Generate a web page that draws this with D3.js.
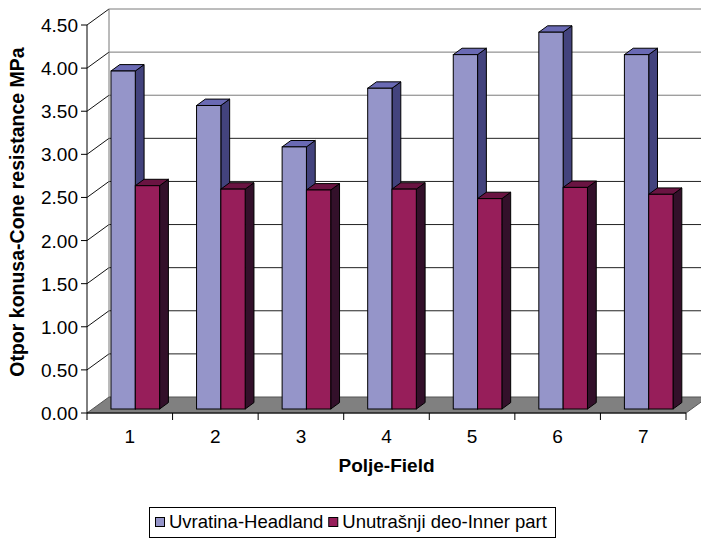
<!DOCTYPE html>
<html>
<head>
<meta charset="utf-8">
<script src="https://cdn.jsdelivr.net/npm/d3@7"></script>
<style>
  body { margin: 0; background: #fff; }
  text { font-family: Arial, "Liberation Sans", sans-serif; fill: #000; }
</style>
</head>
<body>
<svg id="chart" width="701" height="538"></svg>
<script>
// data
var categories = ['1', '2', '3', '4', '5', '6', '7'];
var headland = [3.92, 3.52, 3.04, 3.72, 4.11, 4.37, 4.11];
var innerPart = [2.59, 2.55, 2.54, 2.55, 2.44, 2.57, 2.49];
var yTicks = [0, 0.5, 1, 1.5, 2, 2.5, 3, 3.5, 4, 4.5];
var seriesNames = ['Uvratina-Headland', 'Unutrašnji deo-Inner part'];

var svg = d3.select('#chart');
var DX = 22, DY = -16;          // depth of the 3d box
var fFront = 0.25, fBack = 0.65; // where the columns sit in depth

var x = d3.scaleBand().domain(categories).range([87, 686]);
var xs = d3.scaleBand().domain([0, 1]).range([0, x.bandwidth()]).paddingOuter(0.76);
var y = d3.scaleLinear().domain([0, 4.5]).range([413, 25]);

var colors = [
  {front: '#9595c9', side: '#43437d', top: '#6a6ab4'},
  {front: '#971e5a', side: '#33102a', top: '#6a1442'}
];

var xMin = 87, xMax = 686;

// back wall + left wall gridlines
var walls = svg.append('g');
yTicks.forEach(function (v) {
  if (v === 0) return;
  walls.append('line')
    .attr('x1', xMin + DX).attr('x2', xMax + DX)
    .attr('y1', y(v) + DY).attr('y2', y(v) + DY)
    .attr('stroke', v >= 3.5 ? '#7a7a7a' : '#222').attr('stroke-width', 1);
  walls.append('line')
    .attr('x1', xMin).attr('x2', xMin + DX)
    .attr('y1', y(v)).attr('y2', y(v) + DY)
    .attr('stroke', '#111').attr('stroke-width', 1);
});
walls.append('line')
  .attr('x1', xMin + DX).attr('x2', xMin + DX)
  .attr('y1', y(4.5) + DY).attr('y2', y(0) + DY)
  .attr('stroke', '#777');

// floor
svg.append('polygon')
  .attr('points', [[xMin, y(0)], [xMax, y(0)], [xMax + DX, y(0) + DY], [xMin + DX, y(0) + DY]].join(' '))
  .attr('fill', '#808080').attr('stroke', '#555');

// columns
var bars = svg.append('g');
categories.forEach(function (c, i) {
  [headland[i], innerPart[i]].forEach(function (v, s) {
    var x0 = x(c) + xs(s) + DX * fFront;
    var x1 = x0 + xs.bandwidth();
    var yt = y(v) + DY * fFront;
    var yb = y(0) + DY * fFront;
    var dx = DX * (fBack - fFront), dy = DY * (fBack - fFront);
    var col = colors[s];
    bars.append('polygon')
      .attr('points', [[x1, yt], [x1 + dx, yt + dy], [x1 + dx, yb + dy], [x1, yb]].join(' '))
      .attr('fill', col.side).attr('stroke', '#000');
    bars.append('polygon')
      .attr('points', [[x0, yt], [x0 + dx, yt + dy], [x1 + dx, yt + dy], [x1, yt]].join(' '))
      .attr('fill', col.top).attr('stroke', '#000');
    bars.append('rect')
      .attr('x', x0).attr('y', yt)
      .attr('width', x1 - x0).attr('height', yb - yt)
      .attr('fill', col.front).attr('stroke', '#000');
  });
});

// front axes
var axes = svg.append('g').attr('stroke', '#000');
axes.append('line').attr('x1', xMin).attr('x2', xMin).attr('y1', y(4.5)).attr('y2', y(0));
axes.append('line').attr('x1', xMin).attr('x2', xMax).attr('y1', y(0)).attr('y2', y(0));
yTicks.forEach(function (v) {
  axes.append('line').attr('x1', xMin - 6).attr('x2', xMin).attr('y1', y(v)).attr('y2', y(v));
});
categories.concat(['end']).forEach(function (c, i) {
  var tx = xMin + i * x.step();
  axes.append('line').attr('x1', tx).attr('x2', tx).attr('y1', y(0)).attr('y2', y(0) + 7);
});

// tick labels
yTicks.forEach(function (v) {
  svg.append('text').attr('x', 78).attr('y', y(v) + 7)
    .attr('text-anchor', 'end').style('font-size', '19px')
    .text(v.toFixed(2));
});
categories.forEach(function (c) {
  svg.append('text').attr('x', x(c) + x.bandwidth() / 2).attr('y', 443)
    .attr('text-anchor', 'middle').style('font-size', '19px')
    .text(c);
});

// axis titles
svg.append('text').attr('x', (xMin + xMax) / 2).attr('y', 472)
  .attr('text-anchor', 'middle')
  .style('font-size', '19px').style('font-weight', 'bold')
  .text('Polje-Field');
svg.append('text')
  .attr('transform', 'translate(24,212) rotate(-90)')
  .attr('text-anchor', 'middle')
  .style('font-size', '19.5px').style('font-weight', 'bold')
  .text('Otpor konusa-Cone resistance MPa');

// legend
var legend = svg.append('g');
legend.append('rect').attr('x', 149.5).attr('y', 507.5).attr('width', 406).attr('height', 30)
  .attr('fill', '#fff').attr('stroke', '#000');
var lx = 155;
seriesNames.forEach(function (name, s) {
  legend.append('rect').attr('x', lx + 0.5).attr('y', 517.5).attr('width', 9).attr('height', 9)
    .attr('fill', colors[s].front).attr('stroke', '#000');
  var t = legend.append('text').attr('x', lx + 14).attr('y', 528)
    .style('font-size', '18.5px').text(name);
  lx += 14 + t.node().getComputedTextLength() + 5;
});
</script>
</body>
</html>
